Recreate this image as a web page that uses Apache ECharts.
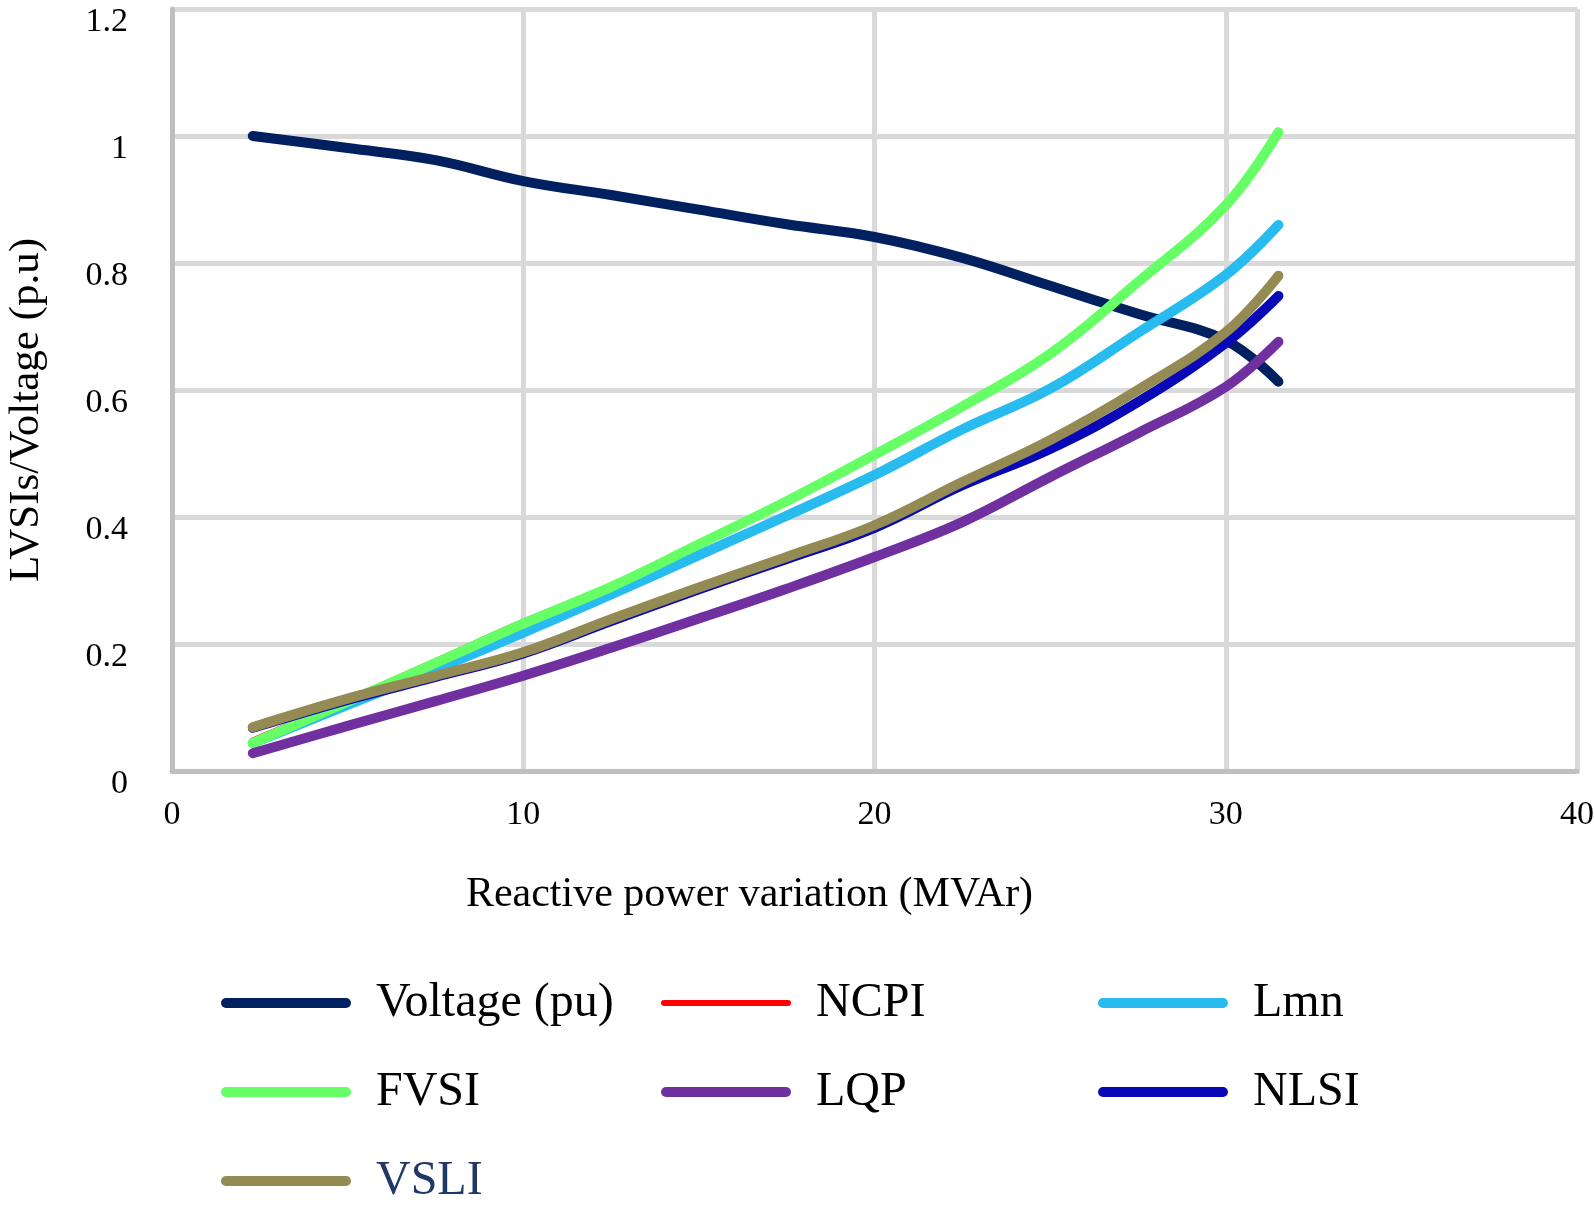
<!DOCTYPE html>
<html>
<head>
<meta charset="utf-8">
<script src="https://cdn.jsdelivr.net/npm/echarts@6/dist/echarts.min.js"></script>
<style>
  html, body { margin: 0; padding: 0; background: #fff; }
  #chart { width: 1594px; height: 1212px; }
</style>
</head>
<body>
<div id="chart"></div>
<script>
// reactive power steps (MVAr)
var qSteps = [2.3, 5, 7.5, 10, 12.5, 15, 17.5, 20, 22.5, 25, 27.5, 30, 31.5];

var voltage = [1.0, 0.981, 0.962, 0.929, 0.907, 0.884, 0.861, 0.841, 0.808, 0.764, 0.72, 0.678, 0.613];
var ncpi    = [0.048, 0.112, 0.173, 0.235, 0.292, 0.358, 0.426, 0.499, 0.575, 0.659, 0.772, 0.893, 1.008];
var lmn     = [0.044, 0.104, 0.160, 0.218, 0.278, 0.340, 0.402, 0.466, 0.538, 0.602, 0.690, 0.781, 0.860];
var fvsi    = [0.044, 0.109, 0.170, 0.232, 0.290, 0.357, 0.425, 0.498, 0.574, 0.657, 0.770, 0.891, 1.006];
var lqp     = [0.028, 0.071, 0.110, 0.150, 0.194, 0.240, 0.287, 0.337, 0.392, 0.463, 0.532, 0.605, 0.676];
var nlsi    = [0.068, 0.112, 0.148, 0.185, 0.236, 0.286, 0.334, 0.383, 0.450, 0.507, 0.581, 0.674, 0.748];
var vsli    = [0.069, 0.114, 0.150, 0.187, 0.239, 0.289, 0.337, 0.387, 0.455, 0.521, 0.600, 0.691, 0.780];

var xTicks = [0, 10, 20, 30, 40];
var yTicks = [0, 0.2, 0.4, 0.6, 0.8, 1, 1.2];

var chart = echarts.init(document.getElementById('chart'));
var serif = '"Liberation Serif", "Times New Roman", serif';

function pairs(vals) {
  return qSteps.map(function (q, i) { return [q, vals[i]]; });
}

function mkSeries(name, vals, color, width) {
  return {
    name: name,
    type: 'line',
    data: pairs(vals),
    smooth: 0.4,
    symbol: 'none',
    showSymbol: false,
    itemStyle: { color: color },
    lineStyle: { color: color, width: width || 10, cap: 'round', join: 'round' }
  };
}

var pill = 'path://M5,0 L125,0 A5,5 0 0 1 125,10 L5,10 A5,5 0 0 1 5,0 Z';

function mkLegend(left, names) {
  return {
    orient: 'vertical',
    left: left,
    top: 978,
    height: 234,
    padding: 0,
    itemWidth: 130,
    itemHeight: 10,
    itemGap: 39,
    icon: pill,
    selectedMode: false,
    textStyle: {
      fontFamily: serif,
      fontSize: 48,
      color: '#000',
      lineHeight: 50,
      padding: [0, 0, 0, 20]
    },
    data: names
  };
}

var option = {
  animation: false,
  backgroundColor: '#fff',
  grid: { left: 172, right: 17, top: 9, bottom: 441, outerBoundsMode: 'none' },
  xAxis: {
    type: 'value',
    min: xTicks[0],
    max: xTicks[xTicks.length - 1],
    interval: 10,
    name: 'Reactive power variation (MVAr)',
    nameLocation: 'middle',
    nameGap: 103,
    nameTextStyle: { fontFamily: serif, fontSize: 42, color: '#000', padding: [0, 250, 0, 0] },
    axisLine: { show: true, lineStyle: { color: '#bfbfbf', width: 5 } },
    axisTick: { show: false },
    axisLabel: { fontFamily: serif, fontSize: 34, color: '#000', margin: 27 },
    splitLine: { show: true, lineStyle: { color: '#d9d9d9', width: 5 } }
  },
  yAxis: {
    type: 'value',
    min: yTicks[0],
    max: yTicks[yTicks.length - 1],
    interval: 0.2,
    name: 'LVSIs/Voltage (p.u)',
    nameLocation: 'middle',
    nameGap: 124,
    nameRotate: 90,
    nameTextStyle: { fontFamily: serif, fontSize: 43, color: '#000', padding: [0, 40, 0, 0] },
    axisLine: { show: true, lineStyle: { color: '#bfbfbf', width: 5 } },
    axisTick: { show: false },
    axisLabel: { fontFamily: serif, fontSize: 34, color: '#000', margin: 44, verticalAlign: 'top', lineHeight: 26 },
    splitLine: { show: true, lineStyle: { color: '#d9d9d9', width: 5 } }
  },
  legend: [
    mkLegend(221, ['Voltage (pu)', 'FVSI', { name: 'VSLI', textStyle: { color: '#1F3868' } }]),
    mkLegend(661, [{ name: 'NCPI', icon: 'path://M3,0 L127,0 A3,3 0 0 1 127,6 L3,6 A3,3 0 0 1 3,0 Z' }, 'LQP']),
    mkLegend(1098, ['Lmn', 'NLSI'])
  ],
  series: [
    mkSeries('Voltage (pu)', voltage, '#002060'),
    mkSeries('NCPI', ncpi, '#FF0000', 6),
    mkSeries('Lmn', lmn, '#27BBEF'),
    mkSeries('FVSI', fvsi, '#66FF66'),
    mkSeries('LQP', lqp, '#7030A0'),
    mkSeries('NLSI', nlsi, '#0808B8'),
    mkSeries('VSLI', vsli, '#948A54')
  ]
};

chart.setOption(option);
</script>
</body>
</html>
